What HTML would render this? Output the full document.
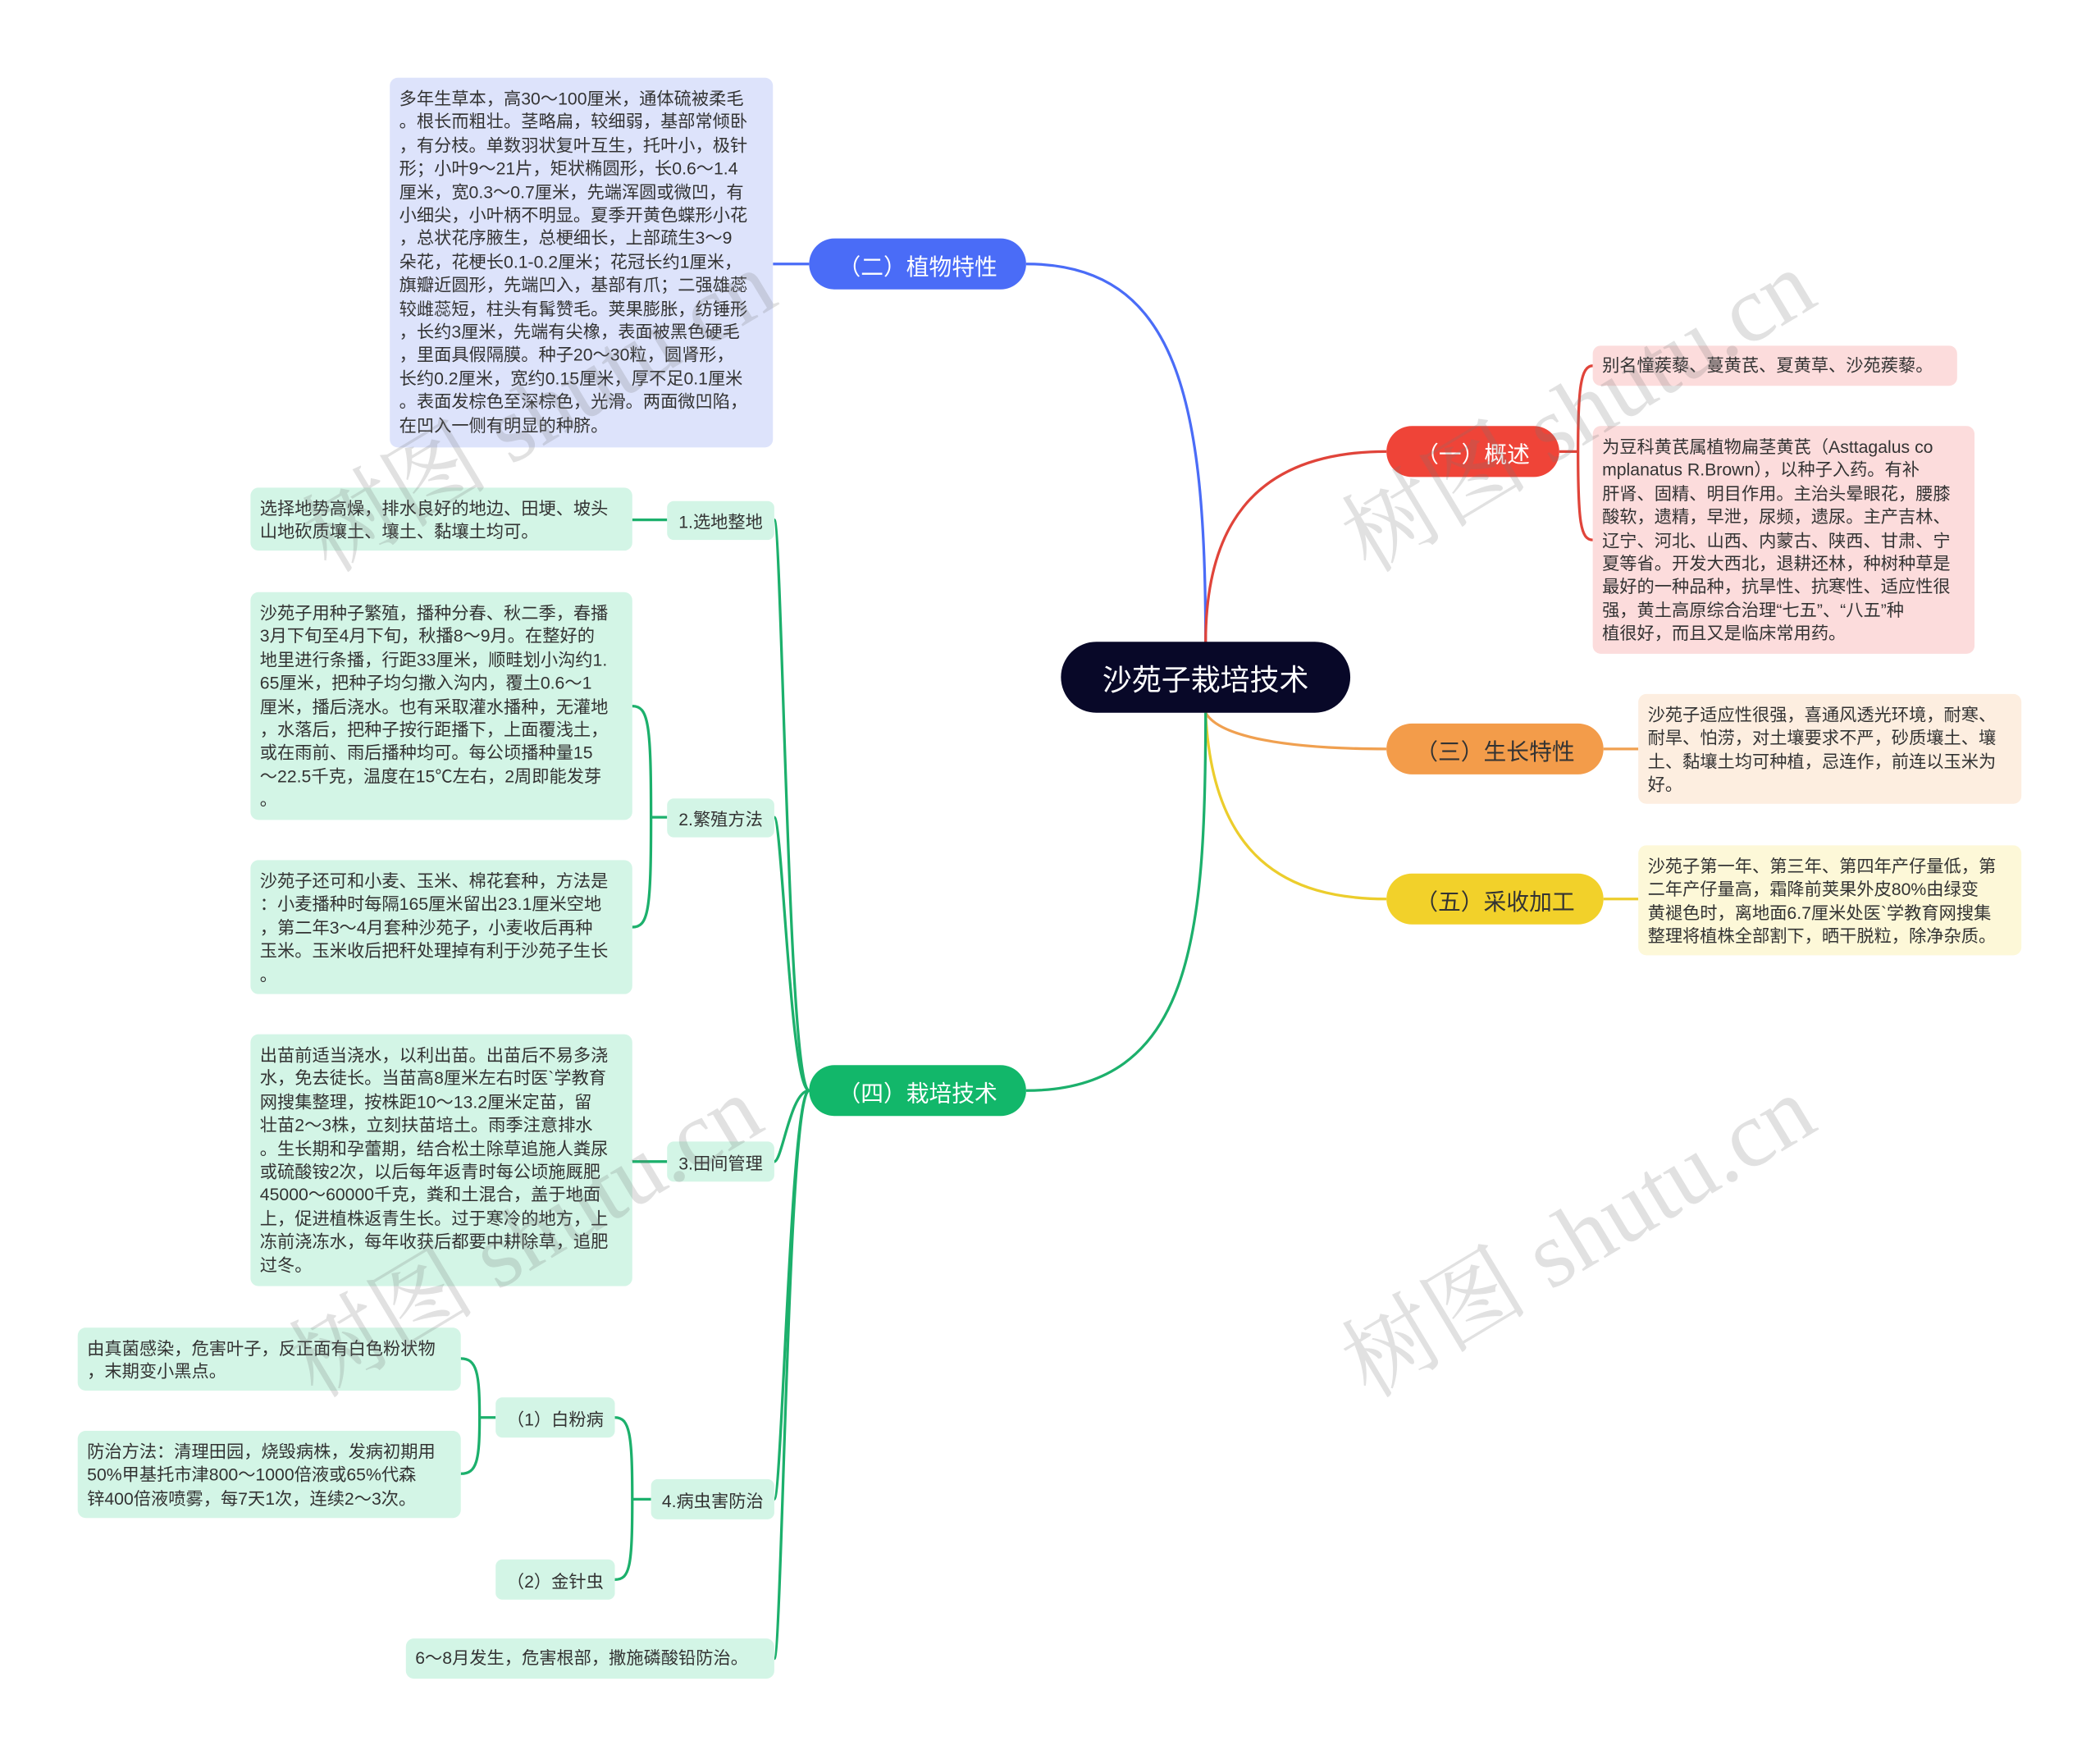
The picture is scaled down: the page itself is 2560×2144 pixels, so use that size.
<!DOCTYPE html>
<html><head><meta charset="utf-8">
<style>
html,body{margin:0;padding:0;background:#fff;}
body{width:2560px;height:2144px;overflow:hidden;position:relative;}
#s{position:absolute;left:0;top:0;width:1570px;height:1313px;transform:scale(1.633);transform-origin:0 0;font-family:"Liberation Sans","Noto Sans CJK SC",sans-serif;}
.b{position:absolute;box-sizing:border-box;border-radius:6px;font-size:13px;line-height:17.4px;color:#333;padding:7px 7px;white-space:nowrap;overflow:hidden;}
.n{position:absolute;box-sizing:border-box;border-radius:19px;color:#fff;font-size:17px;display:flex;align-items:center;justify-content:center;}
.g{position:absolute;box-sizing:border-box;border-radius:5px;background:#d3f5e6;font-size:13px;color:#333;display:flex;align-items:center;justify-content:center;}
.w{position:absolute;font-family:"Liberation Serif","Noto Serif CJK SC",serif;font-size:70px;color:rgba(120,120,120,0.22);transform:rotate(-31deg);transform-origin:0 0;white-space:nowrap;}
svg{position:absolute;left:0;top:0;}
</style></head><body><div id="s">
<svg width="1570" height="1313" fill="none" stroke-width="2">
<path d="M900,480 C900,300 880,197 766,197" stroke="#4a6cf7"/>
<path d="M900,480 C900,400 930,337 1035,337" stroke="#e0443a"/>
<path d="M900,532 C910,550 960,559 1035,559" stroke="#f0a050"/>
<path d="M900,532 C905,640 960,671 1035,671" stroke="#eccd2c"/>
<path d="M900,532 C900,700 890,814 766,814" stroke="#1cb06c"/>
<path d="M604,197 L577,197" stroke="#4a6cf7"/>
<path d="M1164,337 L1178,337 M1178,337 C1178,290 1180,273 1189,273 M1178,337 C1178,390 1180,403 1189,403" stroke="#e0443a"/>
<path d="M1197,559 L1223,559" stroke="#f0a050"/>
<path d="M1197,671 L1223,671" stroke="#eccd2c"/>
<g stroke="#1cb06c">
<path d="M604,814 C588,814 584,388 578,388"/>
<path d="M604,814 C590,814 584,610 578,610"/>
<path d="M604,814 C590,814 584,867 578,867"/>
<path d="M604,814 C590,814 584,1119 578,1119"/>
<path d="M604,814 C588,814 584,1238 578,1238"/>
<path d="M498,388 L472,388"/>
<path d="M498,610 L486,610 M486,610 C486,540 484,527 472,527 M486,610 C486,680 484,692 472,692"/>
<path d="M498,867 L472,867"/>
<path d="M486,1119 L472,1119 M472,1119 C472,1070 470,1058 459,1058 M472,1119 C472,1170 470,1179 459,1179"/>
<path d="M370,1058 L358,1058 M358,1058 C358,1025 356,1014 344,1014 M358,1058 C358,1090 356,1100 344,1100"/>
</g>
</svg>

<div class="n" style="left:792px;top:479px;width:216px;height:53px;border-radius:27px;background:#080828;font-size:22px;">沙苑子栽培技术</div>
<div class="n" style="left:604px;top:178px;width:162px;height:38px;background:#4a6cf7;">（二）植物特性</div>
<div class="n" style="left:1035px;top:318px;width:129px;height:38px;background:#ef4438;">（一）概述</div>
<div class="n" style="left:1035px;top:540px;width:162px;height:38px;background:#f39c4a;color:#333;">（三）生长特性</div>
<div class="n" style="left:1035px;top:652px;width:162px;height:38px;background:#f2d12a;color:#333;">（五）采收加工</div>
<div class="n" style="left:604px;top:795px;width:162px;height:38px;background:#12b76a;">（四）栽培技术</div>

<div class="b" style="left:291px;top:58px;width:286px;height:276px;background:#dde3fb;">多年生草本，高30～100厘米，通体硫被柔毛<br>。根长而粗壮。茎略扁，较细弱，基部常倾卧<br>，有分枝。单数羽状复叶互生，托叶小，极针<br>形；小叶9～21片，矩状椭圆形，长0.6～1.4<br>厘米，宽0.3～0.7厘米，先端浑圆或微凹，有<br>小细尖，小叶柄不明显。夏季开黄色蝶形小花<br>，总状花序腋生，总梗细长，上部疏生3～9<br>朵花，花梗长0.1-0.2厘米；花冠长约1厘米，<br>旗瓣近圆形，先端凹入，基部有爪；二强雄蕊<br>较雌蕊短，柱头有髯赞毛。荚果膨胀，纺锤形<br>，长约3厘米，先端有尖橡，表面被黑色硬毛<br>，里面具假隔膜。种子20～30粒，圆肾形，<br>长约0.2厘米，宽约0.15厘米，厚不足0.1厘米<br>。表面发棕色至深棕色，光滑。两面微凹陷，<br>在凹入一侧有明显的种脐。</div>

<div class="b" style="left:1189px;top:258px;width:272px;height:30px;background:#fcdcdc;padding-top:6px;">别名憧蒺藜、蔓黄芪、夏黄草、沙苑蒺藜。</div>
<div class="b" style="left:1189px;top:318px;width:285px;height:170px;background:#fcdcdc;">为豆科黄芪属植物扁茎黄芪（Asttagalus co<br>mplanatus R.Brown），以种子入药。有补<br>肝肾、固精、明目作用。主治头晕眼花，腰膝<br>酸软，遗精，早泄，尿频，遗尿。主产吉林、<br>辽宁、河北、山西、内蒙古、陕西、甘肃、宁<br>夏等省。开发大西北，退耕还林，种树种草是<br>最好的一种品种，抗旱性、抗寒性、适应性很<br>强，黄土高原综合治理“七五”、“八五”种<br>植很好，而且又是临床常用药。</div>
<div class="b" style="left:1223px;top:518px;width:286px;height:82px;background:#fdeee0;">沙苑子适应性很强，喜通风透光环境，耐寒、<br>耐旱、怕涝，对土壤要求不严，砂质壤土、壤<br>土、黏壤土均可种植，忌连作，前连以玉米为<br>好。</div>
<div class="b" style="left:1223px;top:631px;width:286px;height:82px;background:#fdf8d8;">沙苑子第一年、第三年、第四年产仔量低，第<br>二年产仔量高，霜降前荚果外皮80%由绿变<br>黄褪色时，离地面6.7厘米处医`学教育网搜集<br>整理将植株全部割下，晒干脱粒，除净杂质。</div>

<div class="g" style="left:498px;top:374px;width:80px;height:29px;">1.选地整地</div>
<div class="g" style="left:498px;top:596px;width:80px;height:29px;">2.繁殖方法</div>
<div class="g" style="left:498px;top:852px;width:80px;height:30px;">3.田间管理</div>
<div class="g" style="left:486px;top:1104px;width:92px;height:30px;">4.病虫害防治</div>
<div class="g" style="left:370px;top:1043px;width:89px;height:30px;">（1）白粉病</div>
<div class="g" style="left:370px;top:1164px;width:89px;height:30px;">（2）金针虫</div>

<div class="b" style="left:187px;top:364px;width:285px;height:47px;background:#d3f5e6;">选择地势高燥，排水良好的地边、田埂、坡头<br>山地砍质壤土、壤土、黏壤土均可。</div>
<div class="b" style="left:187px;top:442px;width:285px;height:170px;background:#d3f5e6;">沙苑子用种子繁殖，播种分春、秋二季，春播<br>3月下旬至4月下旬，秋播8～9月。在整好的<br>地里进行条播，行距33厘米，顺畦划小沟约1.<br>65厘米，把种子均匀撒入沟内，覆土0.6～1<br>厘米，播后浇水。也有采取灌水播种，无灌地<br>，水落后，把种子按行距播下，上面覆浅土，<br>或在雨前、雨后播种均可。每公顷播种量15<br>～22.5千克，温度在15℃左右，2周即能发芽<br>。</div>
<div class="b" style="left:187px;top:642px;width:285px;height:100px;background:#d3f5e6;">沙苑子还可和小麦、玉米、棉花套种，方法是<br>：小麦播种时每隔165厘米留出23.1厘米空地<br>，第二年3～4月套种沙苑子，小麦收后再种<br>玉米。玉米收后把秆处理掉有利于沙苑子生长<br>。</div>
<div class="b" style="left:187px;top:772px;width:285px;height:188px;background:#d3f5e6;">出苗前适当浇水，以利出苗。出苗后不易多浇<br>水，免去徒长。当苗高8厘米左右时医`学教育<br>网搜集整理，按株距10～13.2厘米定苗，留<br>壮苗2～3株，立刻扶苗培土。雨季注意排水<br>。生长期和孕蕾期，结合松土除草追施人粪尿<br>或硫酸铵2次，以后每年返青时每公顷施厩肥<br>45000～60000千克，粪和土混合，盖于地面<br>上，促进植株返青生长。过于寒冷的地方，上<br>冻前浇冻水，每年收获后都要中耕除草，追肥<br>过冬。</div>
<div class="b" style="left:58px;top:991px;width:286px;height:47px;background:#d3f5e6;">由真菌感染，危害叶子，反正面有白色粉状物<br>，末期变小黑点。</div>
<div class="b" style="left:58px;top:1068px;width:286px;height:65px;background:#d3f5e6;">防治方法：清理田园，烧毁病株，发病初期用<br>50%甲基托市津800～1000倍液或65%代森<br>锌400倍液喷雾，每7天1次，连续2～3次。</div>
<div class="b" style="left:303px;top:1223px;width:275px;height:30px;background:#d3f5e6;padding-top:6px;">6～8月发生，危害根部，撒施磷酸铅防治。</div>

<div class="w" style="left:205px;top:360px;">树图 shutu.cn</div>
<div class="w" style="left:981px;top:360px;">树图 shutu.cn</div>
<div class="w" style="left:195px;top:976px;">树图 shutu.cn</div>
<div class="w" style="left:981px;top:976px;">树图 shutu.cn</div>
</div></body></html>
